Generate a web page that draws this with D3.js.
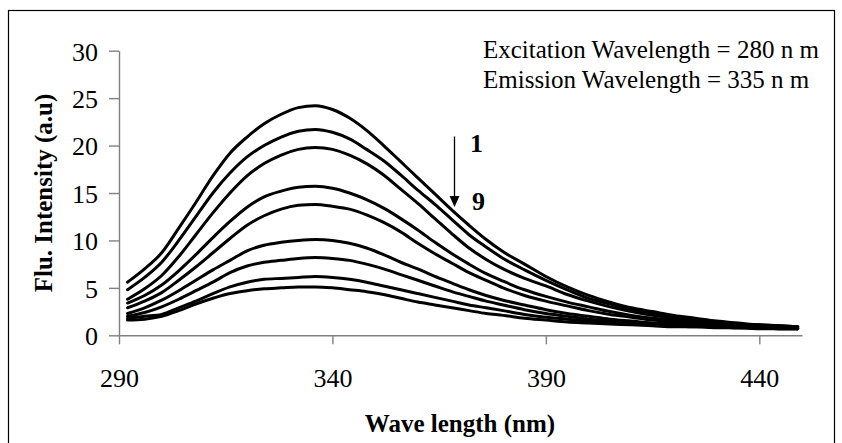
<!DOCTYPE html>
<html>
<head>
<meta charset="utf-8">
<script src="https://cdn.jsdelivr.net/npm/d3@7"></script>
<style>
  html, body { margin: 0; padding: 0; background: #fff; }
  svg { display: block; }
  text { font-family: "Liberation Serif", "Times New Roman", serif; fill: #000; }
</style>
</head>
<body>
<svg id="chart" width="842" height="443"></svg>
<script>
// ---- data ----
const wavelengths = [292, 296, 300, 304, 308, 312, 316, 320, 324, 328, 332, 336, 340, 344, 348, 352, 356, 360, 364, 368, 372, 376, 380, 385, 390, 395, 400, 405, 410, 415, 420, 425, 430, 435, 440, 445, 449];

const curve1 = [5.6, 7.0, 8.7, 11.3, 14.0, 16.8, 19.2, 20.9, 22.3, 23.3, 24.0, 24.2, 23.8, 22.9, 21.6, 20.0, 18.3, 16.6, 14.9, 13.2, 11.6, 10.1, 8.8, 7.5, 6.2, 5.1, 4.2, 3.5, 2.9, 2.5, 2.1, 1.8, 1.5, 1.3, 1.1, 1.0, 0.9];
const curve2 = [4.8, 6.1, 7.7, 10.0, 12.5, 15.0, 17.1, 18.8, 20.0, 20.9, 21.5, 21.7, 21.4, 20.7, 19.6, 18.4, 16.9, 15.3, 13.8, 12.2, 10.6, 9.3, 8.1, 6.9, 5.8, 4.8, 3.9, 3.3, 2.7, 2.3, 2.0, 1.7, 1.4, 1.2, 1.1, 1.0, 0.9];
const curve3 = [3.8, 4.9, 6.3, 8.3, 10.6, 12.9, 15.0, 16.8, 18.1, 19.0, 19.6, 19.8, 19.6, 19.0, 18.1, 16.9, 15.4, 13.9, 12.3, 10.7, 9.2, 8.0, 7.0, 6.0, 5.2, 4.3, 3.6, 3.0, 2.5, 2.1, 1.8, 1.6, 1.3, 1.2, 1.0, 0.9, 0.9];
const curve4 = [3.4, 4.2, 5.3, 6.8, 8.5, 10.3, 12.0, 13.5, 14.6, 15.2, 15.6, 15.7, 15.5, 15.0, 14.3, 13.4, 12.3, 11.1, 9.8, 8.6, 7.5, 6.5, 5.7, 4.8, 4.1, 3.5, 3.0, 2.5, 2.1, 1.8, 1.6, 1.4, 1.2, 1.1, 1.0, 0.9, 0.8];
const curve5 = [2.9, 3.6, 4.5, 5.8, 7.2, 8.7, 10.2, 11.6, 12.6, 13.3, 13.7, 13.8, 13.6, 13.3, 12.7, 11.9, 10.9, 9.7, 8.6, 7.6, 6.6, 5.8, 5.0, 4.2, 3.6, 3.1, 2.6, 2.2, 1.9, 1.6, 1.4, 1.2, 1.1, 1.0, 0.9, 0.9, 0.8];
const curve6 = [2.3, 2.9, 3.7, 4.7, 5.8, 6.9, 7.9, 8.9, 9.5, 9.8, 10.0, 10.1, 10.0, 9.7, 9.2, 8.5, 7.7, 7.0, 6.2, 5.5, 4.8, 4.2, 3.7, 3.2, 2.7, 2.3, 2.0, 1.7, 1.5, 1.3, 1.2, 1.1, 1.0, 0.9, 0.8, 0.8, 0.7];
const curve7 = [2.0, 2.4, 3.0, 3.8, 4.7, 5.6, 6.6, 7.3, 7.7, 7.9, 8.1, 8.2, 8.1, 7.9, 7.5, 7.0, 6.4, 5.8, 5.2, 4.6, 4.1, 3.6, 3.2, 2.7, 2.3, 2.0, 1.7, 1.5, 1.3, 1.2, 1.1, 1.0, 0.9, 0.8, 0.8, 0.7, 0.7];
const curve8 = [1.8, 2.0, 2.2, 2.9, 3.6, 4.4, 5.1, 5.6, 5.9, 6.0, 6.1, 6.2, 6.1, 5.9, 5.6, 5.2, 4.8, 4.4, 4.0, 3.6, 3.2, 2.9, 2.6, 2.2, 1.9, 1.7, 1.5, 1.3, 1.2, 1.1, 1.0, 0.9, 0.9, 0.8, 0.8, 0.7, 0.7];
const curve9 = [1.6, 1.7, 2.0, 2.6, 3.3, 3.9, 4.4, 4.7, 4.9, 5.0, 5.1, 5.1, 5.0, 4.8, 4.6, 4.3, 3.9, 3.5, 3.2, 2.9, 2.6, 2.3, 2.1, 1.8, 1.6, 1.4, 1.3, 1.2, 1.1, 1.0, 0.9, 0.9, 0.8, 0.8, 0.7, 0.7, 0.7];

const seriesList = [curve1, curve2, curve3, curve4, curve5, curve6, curve7, curve8, curve9];

const xTicks = [290, 340, 390, 440];
const yTicks = [0, 5, 10, 15, 20, 25, 30];

const xTitle = "Wave length (nm)";
const yTitle = "Flu. Intensity (a.u)";
const noteLines = ["Excitation Wavelength = 280 n m", "Emission Wavelength = 335 n m"];
const arrowLabels = ["1", "9"];

// ---- drawing ----
const svg = d3.select("#chart");
svg.append("rect").attr("width", 842).attr("height", 443).attr("fill", "#fff");

// outer frame
svg.append("rect")
  .attr("x", 8.5).attr("y", 10.5).attr("width", 826).attr("height", 445)
  .attr("fill", "none").attr("stroke", "#000").attr("stroke-width", 1.2);

const x = d3.scaleLinear().domain([290, 450]).range([119, 802]);
const y = d3.scaleLinear().domain([0, 30]).range([335.3, 50.7]);
const axisColor = "#808080";
const serif = "'Liberation Serif', 'Times New Roman', serif";

// y axis
const gy = svg.append("g").attr("transform", `translate(${x(290)},0)`)
  .call(d3.axisLeft(y).tickValues(yTicks).tickSize(10).tickSizeOuter(0).tickPadding(11));
gy.select(".domain").attr("stroke", axisColor).attr("stroke-width", 1.4);
gy.selectAll(".tick line").attr("stroke", axisColor).attr("stroke-width", 1.4);
gy.selectAll(".tick text").attr("font-size", 26).attr("dy", "0.36em")
  .attr("font-family", serif).attr("fill", "#000");

// x axis
const gx = svg.append("g").attr("transform", `translate(0,${y(0)})`)
  .call(d3.axisBottom(x).tickValues(xTicks).tickSize(9).tickSizeOuter(0).tickFormat(d3.format("d")));
gx.select(".domain").attr("stroke", axisColor).attr("stroke-width", 1.4);
gx.selectAll(".tick line").attr("stroke", axisColor).attr("stroke-width", 1.4);
gx.selectAll(".tick text").attr("font-size", 26).attr("y", 52).attr("dy", 0)
  .attr("font-family", serif).attr("fill", "#000");

// curves
const line = d3.line()
  .x((d, i) => x(wavelengths[i]))
  .y(d => y(d))
  .curve(d3.curveMonotoneX);

svg.append("g").selectAll("path").data(seriesList).join("path")
  .attr("d", line)
  .attr("fill", "none")
  .attr("stroke", "#000")
  .attr("stroke-width", 3)
  .attr("stroke-linejoin", "round")
  .attr("stroke-linecap", "round");

// axis titles
svg.append("text")
  .attr("x", 460).attr("y", 432)
  .attr("text-anchor", "middle")
  .attr("font-size", 25).attr("font-weight", "bold")
  .text(xTitle);

svg.append("text")
  .attr("transform", `translate(52,${(y(0) + y(30)) / 2}) rotate(-90)`)
  .attr("text-anchor", "middle")
  .attr("font-size", 25).attr("font-weight", "bold")
  .text(yTitle);

// note text
svg.append("g").selectAll("text").data(noteLines).join("text")
  .attr("x", 483)
  .attr("y", (d, i) => 58 + i * 30)
  .attr("font-size", 25)
  .text(d => d);

// arrow
svg.append("line")
  .attr("x1", 454.5).attr("y1", 136.5).attr("x2", 454.5).attr("y2", 200)
  .attr("stroke", "#000").attr("stroke-width", 1.3);
svg.append("path")
  .attr("d", "M449.5,196 L459.5,196 L454.5,207 Z").attr("fill", "#000");

svg.append("g").selectAll("text").data(arrowLabels).join("text")
  .attr("x", (d, i) => i === 0 ? 470 : 472)
  .attr("y", (d, i) => i === 0 ? 152 : 210)
  .attr("font-size", 26).attr("font-weight", "bold")
  .text(d => d);
</script>
</body>
</html>
